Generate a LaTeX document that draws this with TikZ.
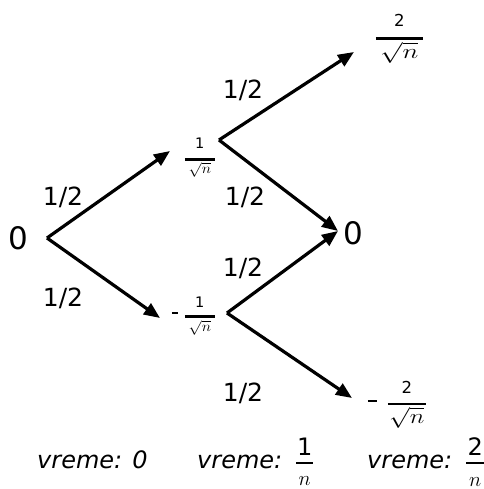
\documentclass[tikz,border=0pt]{standalone}
\usepackage{fontspec}
\usepackage{graphicx}
\setmainfont{DejaVu Sans}
\usetikzlibrary{arrows.meta}
% #1 bar width, #2 bar thickness, #3 gap above bar, #4 gap below bar, #5 numerator, #6 denominator
\newcommand\stackfr[6]{$\vcenter{\offinterlineskip\halign{\hfil##\hfil\cr #5\cr\noalign{\kern#3}\vrule width #1 height #2 depth 0pt\cr\noalign{\kern#4}#6\cr}}$}
\newcommand\minussign[2]{\raisebox{#2}{$\vcenter{\hbox{\rule{#1}{1.6pt}}}$}}
\begin{document}
\begin{tikzpicture}[x=1pt,y=-1pt,
  arr/.style={line width=3.2pt,-{Triangle[length=16pt,width=13pt]}},
  prob/.style={inner sep=0pt,font=\fontsize{25}{25}\selectfont},
  state/.style={inner sep=0pt,font=\fontsize{31}{31}\selectfont},
  frlbl/.style={inner sep=0pt,font=\fontsize{12}{12}\selectfont},
  timelbl/.style={inner sep=0pt,anchor=base west,font=\fontsize{24}{24}\selectfont\itshape}]
\useasboundingbox (0,0) rectangle (483,489);
\coordinate (r) at (47,238);
\coordinate (a) at (219,140);
\coordinate (b) at (227,313);
\coordinate (m) at (338,231);
\coordinate (ta) at (170,151);
\coordinate (tb) at (160,318);
\coordinate (tt) at (354,52);
\coordinate (tbb) at (352,398);
\node[state] (s0) at (18,238) {0};
\node[state] (s2) at (353,233) {0};
\node[frlbl,anchor=east] (sa) at (215,157.5)
  {\stackfr{30pt}{3pt}{10pt}{1pt}{\fontsize{14.5}{14.5}\selectfont 1}{\scalebox{1.1}[1]{\fontsize{14}{14}\selectfont$\sqrt{n}$}}};
\node[frlbl,anchor=east] (sb) at (215,316)
  {\minussign{6pt}{3pt}\hspace{7pt}\stackfr{30pt}{3pt}{7.5pt}{2pt}{\fontsize{14.5}{14.5}\selectfont 1}{\scalebox{1.1}[1]{\fontsize{14}{14}\selectfont$\sqrt{n}$}}};
\node[frlbl,anchor=east] (st) at (423,39)
  {\stackfr{47pt}{3pt}{11pt}{2pt}{\fontsize{16.5}{16.5}\selectfont 2}{\scalebox{1.3}[1]{\fontsize{21}{21}\selectfont$\sqrt{n}$}}};
\node[frlbl,anchor=east] (sbb) at (426,405)
  {\minussign{9pt}{4pt}\hspace{11pt}\stackfr{38pt}{2.5pt}{9pt}{2pt}{\fontsize{16.5}{16.5}\selectfont 2}{\scalebox{1.2}[1]{\fontsize{20}{20}\selectfont$\sqrt{n}$}}};
\draw[arr] (r) -- (ta);
\draw[arr] (r) -- (tb);
\draw[arr] (a) -- (tt);
\draw[arr] (a) -- (m);
\draw[arr] (b) -- (m);
\draw[arr] (b) -- (tbb);
\node[prob] (p1) at (63,197) {1/2};
\node[prob] (p2) at (63,298) {1/2};
\node[prob] (p3) at (243,90) {1/2};
\node[prob] (p4) at (245,197) {1/2};
\node[prob] (p5) at (243,268) {1/2};
\node[prob] (p6) at (243,393) {1/2};
\node[timelbl] (t0) at (37,468) {vreme: 0};
\node[timelbl] (t1) at (197,468) {vreme:\hspace{14pt}\stackfr{17pt}{2pt}{7pt}{13pt}{\upshape 1}{\fontsize{21}{21}\selectfont$n$}};
\node[timelbl] (t2) at (367,468) {vreme:\hspace{14pt}\stackfr{18pt}{2pt}{7pt}{13pt}{\upshape 2}{\fontsize{21}{21}\selectfont$n$}};
\end{tikzpicture}
\end{document}
